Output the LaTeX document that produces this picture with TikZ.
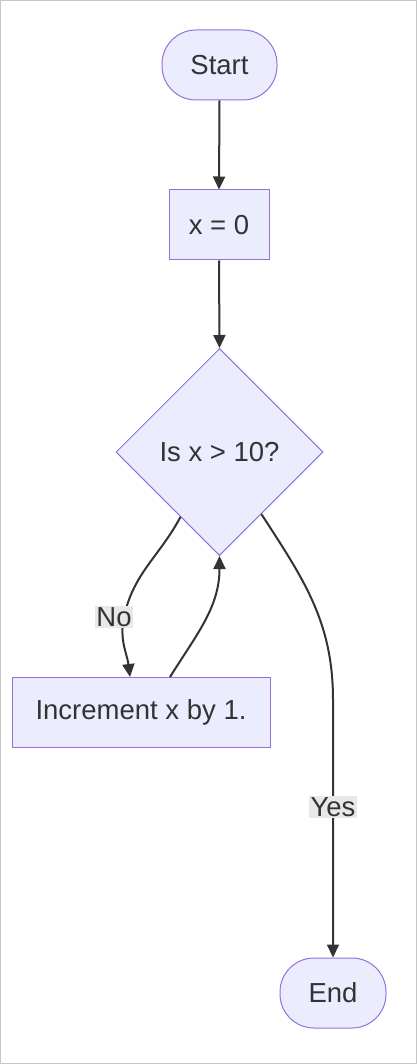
\documentclass[tikz,border=0pt]{standalone}
\usepackage{fontspec}
\setmainfont{Liberation Sans}
\usepackage{xcolor}
\usepackage{tikz}
\usetikzlibrary{arrows.meta,shapes.geometric}

\definecolor{nodefill}{HTML}{ECECFF}
\definecolor{nodeline}{HTML}{9370DB}
\definecolor{edgeline}{HTML}{333333}
\definecolor{labelbg}{HTML}{E8E8E8}

\begin{document}
\begin{tikzpicture}[x=1pt, y=1pt,
        terminal/.style={draw=nodeline, fill=nodefill, line width=1pt, rounded corners=34pt, minimum height=70pt, text=edgeline, font=\fontsize{27.5}{32}\selectfont},
        process/.style={draw=nodeline, fill=nodefill, line width=1pt, minimum height=70pt, text=edgeline, font=\fontsize{27.5}{32}\selectfont},
        decision/.style={draw=nodeline, fill=nodefill, line width=1pt, diamond, minimum width=207pt, minimum height=207pt, inner sep=0pt, text=edgeline, font=\fontsize{27.5}{32}\selectfont},
        lbl/.style={fill=labelbg, inner sep=1.5pt, text=edgeline, font=\fontsize{27.5}{32}\selectfont},
        flow/.style={-{Triangle[length=13pt, width=12pt]}, line width=2pt, edgeline}
    ]
        \useasboundingbox (0,0) rectangle (417,-1064);
        \draw[gray!45, line width=1pt] (0.5,-0.5) rectangle (416.5,-1063.5);

        \node[terminal, minimum width=115pt] (start) at (219.5,-65) {Start};
        \node[process, minimum width=100pt] (init) at (219,-225) {x = 0};
        \node[decision] (check) at (219.5,-452) {Is x > 10?};
        \node[process, minimum width=258pt] (incr) at (141,-712.5) {Increment x by 1.};
        \node[terminal, minimum width=106pt] (stop) at (333,-993) {End};

        \coordinate (nopt) at (124,-617);
        \coordinate (yesbend) at (333,-700);

        \draw[flow] (start.south) -- (init.north);
        \draw[flow] (init.south) -- (check.north);
        \draw[flow] (check.239) to[out=-118, in=78] (nopt) to[out=-102, in=97] ([xshift=-11pt]incr.north);
        \draw[flow] ([xshift=29pt]incr.north) to[out=58, in=-90] (check.south);
        \draw[flow] (check.304) to[out=-57, in=90] (yesbend) -- (stop.north);

        \node[lbl] (no) at (114,-617) {No};
        \node[lbl] (yes) at (333,-807) {Yes};
    \end{tikzpicture}
\end{document}
